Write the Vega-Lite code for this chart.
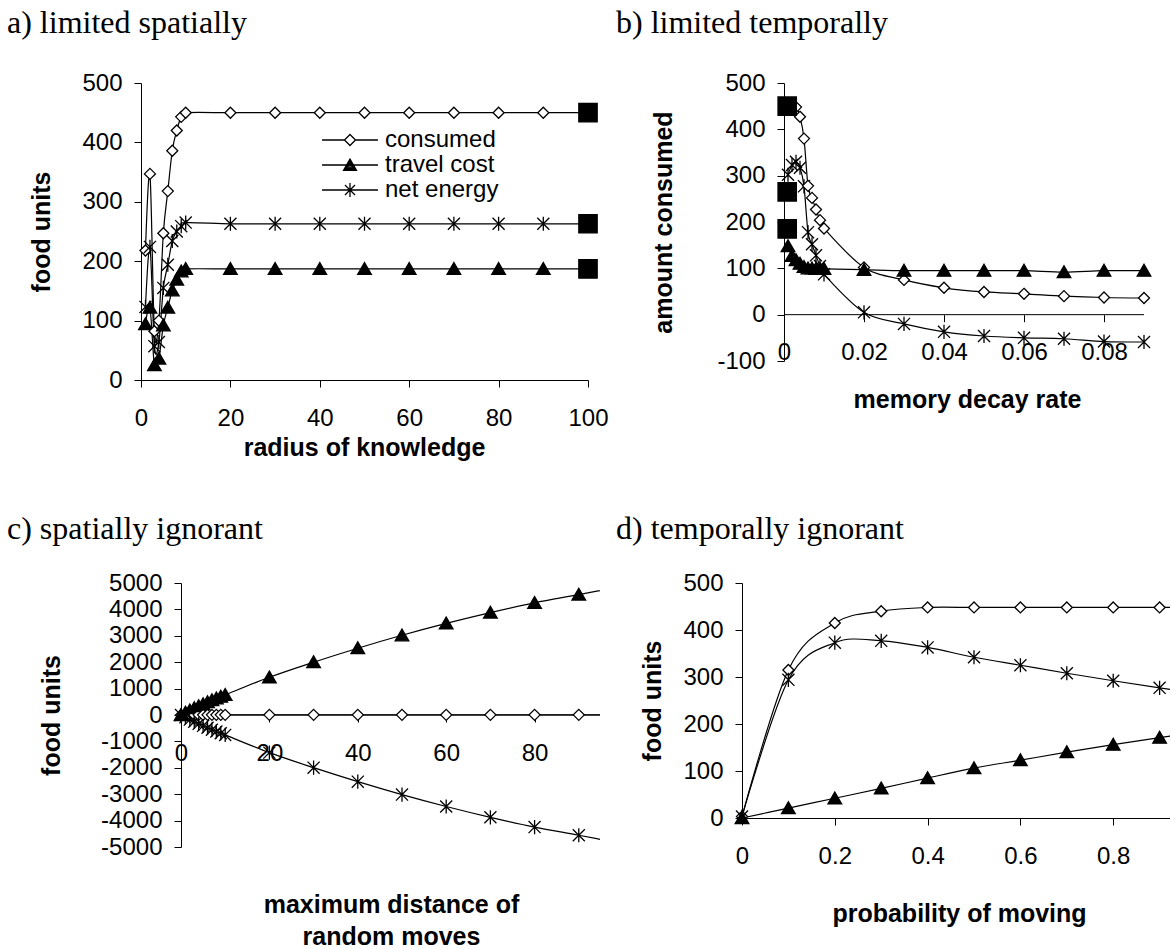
{
  "$schema": "https://vega.github.io/schema/vega-lite/v6.json",
  "background": "white",
  "padding": {"left": 7, "top": 7, "right": 0, "bottom": 0},
  "columns": 2,
  "bounds": "flush",
  "spacing": {"row": 203, "column": 142},
  "resolve": {"scale": {"shape": "independent", "fill": "independent"}},
  "datasets": {
    "spatialLimit": [
      {"x": 1, "series": "consumed", "food": 218}, {"x": 1, "series": "travel cost", "food": 94}, {"x": 1, "series": "net energy", "food": 123},
      {"x": 2, "series": "consumed", "food": 347}, {"x": 2, "series": "travel cost", "food": 122}, {"x": 2, "series": "net energy", "food": 224},
      {"x": 3, "series": "consumed", "food": 82}, {"x": 3, "series": "travel cost", "food": 25}, {"x": 3, "series": "net energy", "food": 57},
      {"x": 4, "series": "consumed", "food": 100}, {"x": 4, "series": "travel cost", "food": 36}, {"x": 4, "series": "net energy", "food": 64},
      {"x": 5, "series": "consumed", "food": 247}, {"x": 5, "series": "travel cost", "food": 92}, {"x": 5, "series": "net energy", "food": 155},
      {"x": 6, "series": "consumed", "food": 318}, {"x": 6, "series": "travel cost", "food": 122}, {"x": 6, "series": "net energy", "food": 194},
      {"x": 7, "series": "consumed", "food": 386}, {"x": 7, "series": "travel cost", "food": 151}, {"x": 7, "series": "net energy", "food": 234},
      {"x": 8, "series": "consumed", "food": 420}, {"x": 8, "series": "travel cost", "food": 169}, {"x": 8, "series": "net energy", "food": 250},
      {"x": 9, "series": "consumed", "food": 443}, {"x": 9, "series": "travel cost", "food": 183}, {"x": 9, "series": "net energy", "food": 259},
      {"x": 10, "series": "consumed", "food": 450}, {"x": 10, "series": "travel cost", "food": 187}, {"x": 10, "series": "net energy", "food": 265},
      {"x": 20, "series": "consumed", "food": 450}, {"x": 20, "series": "travel cost", "food": 187}, {"x": 20, "series": "net energy", "food": 263},
      {"x": 30, "series": "consumed", "food": 450}, {"x": 30, "series": "travel cost", "food": 187}, {"x": 30, "series": "net energy", "food": 263},
      {"x": 40, "series": "consumed", "food": 450}, {"x": 40, "series": "travel cost", "food": 187}, {"x": 40, "series": "net energy", "food": 263},
      {"x": 50, "series": "consumed", "food": 450}, {"x": 50, "series": "travel cost", "food": 187}, {"x": 50, "series": "net energy", "food": 263},
      {"x": 60, "series": "consumed", "food": 450}, {"x": 60, "series": "travel cost", "food": 187}, {"x": 60, "series": "net energy", "food": 263},
      {"x": 70, "series": "consumed", "food": 450}, {"x": 70, "series": "travel cost", "food": 187}, {"x": 70, "series": "net energy", "food": 263},
      {"x": 80, "series": "consumed", "food": 450}, {"x": 80, "series": "travel cost", "food": 187}, {"x": 80, "series": "net energy", "food": 263},
      {"x": 90, "series": "consumed", "food": 450}, {"x": 90, "series": "travel cost", "food": 187}, {"x": 90, "series": "net energy", "food": 263},
      {"x": 100, "series": "consumed", "food": 450}, {"x": 100, "series": "travel cost", "food": 187}, {"x": 100, "series": "net energy", "food": 263},
      {"x": 100, "series": "Series4", "food": 450}, {"x": 100, "series": "Series4", "food": 263}, {"x": 100, "series": "Series4", "food": 187}
    ],
    "temporalLimit": [
      {"x": 0.001, "series": "consumed", "food": 450}, {"x": 0.001, "series": "travel cost", "food": 148}, {"x": 0.001, "series": "net energy", "food": 302},
      {"x": 0.002, "series": "consumed", "food": 450}, {"x": 0.002, "series": "travel cost", "food": 127}, {"x": 0.002, "series": "net energy", "food": 323},
      {"x": 0.003, "series": "consumed", "food": 448}, {"x": 0.003, "series": "travel cost", "food": 118}, {"x": 0.003, "series": "net energy", "food": 330},
      {"x": 0.004, "series": "consumed", "food": 427}, {"x": 0.004, "series": "travel cost", "food": 110}, {"x": 0.004, "series": "net energy", "food": 317},
      {"x": 0.005, "series": "consumed", "food": 380}, {"x": 0.005, "series": "travel cost", "food": 103}, {"x": 0.005, "series": "net energy", "food": 277},
      {"x": 0.006, "series": "consumed", "food": 278}, {"x": 0.006, "series": "travel cost", "food": 100}, {"x": 0.006, "series": "net energy", "food": 178},
      {"x": 0.007, "series": "consumed", "food": 252}, {"x": 0.007, "series": "travel cost", "food": 100}, {"x": 0.007, "series": "net energy", "food": 152},
      {"x": 0.008, "series": "consumed", "food": 227}, {"x": 0.008, "series": "travel cost", "food": 99}, {"x": 0.008, "series": "net energy", "food": 128},
      {"x": 0.009, "series": "consumed", "food": 204}, {"x": 0.009, "series": "travel cost", "food": 99}, {"x": 0.009, "series": "net energy", "food": 105},
      {"x": 0.01, "series": "consumed", "food": 186}, {"x": 0.01, "series": "travel cost", "food": 99}, {"x": 0.01, "series": "net energy", "food": 87},
      {"x": 0.02, "series": "consumed", "food": 102}, {"x": 0.02, "series": "travel cost", "food": 97}, {"x": 0.02, "series": "net energy", "food": 5},
      {"x": 0.03, "series": "consumed", "food": 75}, {"x": 0.03, "series": "travel cost", "food": 95}, {"x": 0.03, "series": "net energy", "food": -20},
      {"x": 0.04, "series": "consumed", "food": 58}, {"x": 0.04, "series": "travel cost", "food": 95}, {"x": 0.04, "series": "net energy", "food": -37},
      {"x": 0.05, "series": "consumed", "food": 49}, {"x": 0.05, "series": "travel cost", "food": 95}, {"x": 0.05, "series": "net energy", "food": -46},
      {"x": 0.06, "series": "consumed", "food": 45}, {"x": 0.06, "series": "travel cost", "food": 95}, {"x": 0.06, "series": "net energy", "food": -50},
      {"x": 0.07, "series": "consumed", "food": 40}, {"x": 0.07, "series": "travel cost", "food": 92}, {"x": 0.07, "series": "net energy", "food": -52},
      {"x": 0.08, "series": "consumed", "food": 37}, {"x": 0.08, "series": "travel cost", "food": 95}, {"x": 0.08, "series": "net energy", "food": -58},
      {"x": 0.09, "series": "consumed", "food": 36}, {"x": 0.09, "series": "travel cost", "food": 95}, {"x": 0.09, "series": "net energy", "food": -59},
      {"x": 0.0008, "series": "Series4", "food": 450}, {"x": 0.0008, "series": "Series4", "food": 265}, {"x": 0.0008, "series": "Series4", "food": 185}
    ],
    "spatialIgnorance": [
      {"x": 0, "series": "consumed", "food": 0}, {"x": 0, "series": "travel cost", "food": 0}, {"x": 0, "series": "net energy", "food": 0},
      {"x": 1, "series": "consumed", "food": 5}, {"x": 1, "series": "travel cost", "food": 95}, {"x": 1, "series": "net energy", "food": -90},
      {"x": 2, "series": "consumed", "food": 5}, {"x": 2, "series": "travel cost", "food": 180}, {"x": 2, "series": "net energy", "food": -175},
      {"x": 3, "series": "consumed", "food": 5}, {"x": 3, "series": "travel cost", "food": 262}, {"x": 3, "series": "net energy", "food": -257},
      {"x": 4, "series": "consumed", "food": 5}, {"x": 4, "series": "travel cost", "food": 340}, {"x": 4, "series": "net energy", "food": -335},
      {"x": 5, "series": "consumed", "food": 5}, {"x": 5, "series": "travel cost", "food": 415}, {"x": 5, "series": "net energy", "food": -410},
      {"x": 6, "series": "consumed", "food": 5}, {"x": 6, "series": "travel cost", "food": 488}, {"x": 6, "series": "net energy", "food": -483},
      {"x": 7, "series": "consumed", "food": 5}, {"x": 7, "series": "travel cost", "food": 560}, {"x": 7, "series": "net energy", "food": -555},
      {"x": 8, "series": "consumed", "food": 5}, {"x": 8, "series": "travel cost", "food": 628}, {"x": 8, "series": "net energy", "food": -623},
      {"x": 9, "series": "consumed", "food": 5}, {"x": 9, "series": "travel cost", "food": 695}, {"x": 9, "series": "net energy", "food": -690},
      {"x": 10, "series": "consumed", "food": 5}, {"x": 10, "series": "travel cost", "food": 760}, {"x": 10, "series": "net energy", "food": -755},
      {"x": 20, "series": "consumed", "food": 5}, {"x": 20, "series": "travel cost", "food": 1430}, {"x": 20, "series": "net energy", "food": -1425},
      {"x": 30, "series": "consumed", "food": 5}, {"x": 30, "series": "travel cost", "food": 2000}, {"x": 30, "series": "net energy", "food": -1995},
      {"x": 40, "series": "consumed", "food": 5}, {"x": 40, "series": "travel cost", "food": 2530}, {"x": 40, "series": "net energy", "food": -2525},
      {"x": 50, "series": "consumed", "food": 5}, {"x": 50, "series": "travel cost", "food": 3020}, {"x": 50, "series": "net energy", "food": -3015},
      {"x": 60, "series": "consumed", "food": 5}, {"x": 60, "series": "travel cost", "food": 3470}, {"x": 60, "series": "net energy", "food": -3465},
      {"x": 70, "series": "consumed", "food": 5}, {"x": 70, "series": "travel cost", "food": 3880}, {"x": 70, "series": "net energy", "food": -3875},
      {"x": 80, "series": "consumed", "food": 5}, {"x": 80, "series": "travel cost", "food": 4250}, {"x": 80, "series": "net energy", "food": -4245},
      {"x": 90, "series": "consumed", "food": 5}, {"x": 90, "series": "travel cost", "food": 4560}, {"x": 90, "series": "net energy", "food": -4555},
      {"x": 100, "series": "consumed", "food": 5}, {"x": 100, "series": "travel cost", "food": 4880}, {"x": 100, "series": "net energy", "food": -4875}
    ],
    "temporalIgnorance": [
      {"x": 0, "series": "consumed", "food": 3}, {"x": 0, "series": "travel cost", "food": 0}, {"x": 0, "series": "net energy", "food": 3},
      {"x": 0.1, "series": "consumed", "food": 315}, {"x": 0.1, "series": "travel cost", "food": 21}, {"x": 0.1, "series": "net energy", "food": 294},
      {"x": 0.2, "series": "consumed", "food": 415}, {"x": 0.2, "series": "travel cost", "food": 42}, {"x": 0.2, "series": "net energy", "food": 373},
      {"x": 0.3, "series": "consumed", "food": 440}, {"x": 0.3, "series": "travel cost", "food": 63}, {"x": 0.3, "series": "net energy", "food": 377},
      {"x": 0.4, "series": "consumed", "food": 448}, {"x": 0.4, "series": "travel cost", "food": 85}, {"x": 0.4, "series": "net energy", "food": 363},
      {"x": 0.5, "series": "consumed", "food": 448}, {"x": 0.5, "series": "travel cost", "food": 106}, {"x": 0.5, "series": "net energy", "food": 342},
      {"x": 0.6, "series": "consumed", "food": 448}, {"x": 0.6, "series": "travel cost", "food": 123}, {"x": 0.6, "series": "net energy", "food": 325},
      {"x": 0.7, "series": "consumed", "food": 448}, {"x": 0.7, "series": "travel cost", "food": 140}, {"x": 0.7, "series": "net energy", "food": 308},
      {"x": 0.8, "series": "consumed", "food": 448}, {"x": 0.8, "series": "travel cost", "food": 156}, {"x": 0.8, "series": "net energy", "food": 292},
      {"x": 0.9, "series": "consumed", "food": 448}, {"x": 0.9, "series": "travel cost", "food": 171}, {"x": 0.9, "series": "net energy", "food": 277},
      {"x": 1.0, "series": "consumed", "food": 448}, {"x": 1.0, "series": "travel cost", "food": 185}, {"x": 1.0, "series": "net energy", "food": 263}
    ]
  },
  "concat": [
    {
      "width": 447,
      "height": 297,
      "title": {"text": "a) limited spatially", "dx": -134, "offset": 31},
      "data": {"name": "spatialLimit"},
      "resolve": {"scale": {"shape": "independent", "fill": "independent"}},
      "encoding": {
        "x": {"field": "x", "type": "quantitative", "scale": {"domain": [0, 100], "nice": false, "zero": false},
              "axis": {"values": [0, 20, 40, 60, 80, 100], "title": "radius of knowledge", "titleX": 223, "titleY": 75}},
        "y": {"field": "food", "type": "quantitative", "scale": {"domain": [0, 500], "nice": false, "zero": false},
              "axis": {"values": [0, 100, 200, 300, 400, 500], "title": "food units", "titleX": -92}}
      },
      "layer": [
        {
          "transform": [{"filter": "datum.series !== 'Series4'"}],
          "mark": {"type": "line", "interpolate": "cardinal", "color": "black", "strokeWidth": 1.2},
          "encoding": {"detail": {"field": "series", "type": "nominal"}}
        },
        {
          "mark": {"type": "point", "size": 110, "stroke": "black", "strokeWidth": 1.3, "opacity": 1},
          "encoding": {
            "shape": {"field": "series", "type": "nominal",
              "scale": {"domain": ["consumed", "travel cost", "net energy", "Series4"],
                        "range": ["M0,-1.05L1.05,0L0,1.05L-1.05,0Z", "M0,-1.2L1.3,1.05L-1.3,1.05Z", "M-1.15,-1.15L1.15,1.15M-1.15,1.15L1.15,-1.15M0,-1.35L0,1.35", "M-1.75,-1.75L1.75,-1.75L1.75,1.75L-1.75,1.75Z"]},
              "legend": null},
            "fill": {"field": "series", "type": "nominal",
              "scale": {"domain": ["consumed", "travel cost", "net energy", "Series4"], "range": ["white", "black", "transparent", "black"]},
              "legend": null}
          }
        },
        {
          "transform": [{"filter": "datum.x === 100 && datum.series !== 'Series4'"}],
          "mark": {"type": "point", "size": 110, "stroke": "black", "strokeWidth": 1.3, "opacity": 0},
          "encoding": {
            "shape": {"field": "series", "type": "nominal",
              "scale": {"domain": ["consumed", "travel cost", "net energy"],
                        "range": ["M-2.33,0L-0.46,0M0.46,0L2.33,0M0,-0.46L0.46,0L0,0.46L-0.46,0Z", "M-2.33,0L2.33,0M0,-0.5L0.54,0.44L-0.54,0.44ZM0,-0.34L0.38,0.34L-0.38,0.34ZM0,-0.18L0.22,0.24L-0.22,0.24ZM0,-0.5L0,0.44", "M-2.33,0L2.33,0M-0.42,-0.42L0.42,0.42M-0.42,0.42L0.42,-0.42M0,-0.58L0,0.58"]},
              "legend": {
                "orient": "none", "legendX": 180, "legendY": 44, "title": null,
                "symbolSize": 576, "symbolOffset": 16, "symbolOpacity": 1, "symbolStrokeWidth": 1.3, "symbolStrokeColor": "black",
                "labelOffset": 22, "rowPadding": 0, "padding": 0,
                "labelFont": "Liberation Sans", "labelFontSize": 24, "labelColor": "black", "labelLimit": 300,
                "encode": {"symbols": {
                  "stroke": {"value": "black"},
                  "strokeWidth": {"value": 1.3},
                  "opacity": {"value": 1}
                }}
              }}
          }
        }
      ]
    },
    {
      "width": 402,
      "height": 278,
      "title": {"text": "b) limited temporally", "dx": -126, "offset": 31},
      "data": {"name": "temporalLimit"},
      "encoding": {
        "x": {"field": "x", "type": "quantitative", "scale": {"domain": [-0.0105, 0.09], "nice": false, "zero": false},
              "axis": {"values": [0, 0.02, 0.04, 0.06, 0.08], "domain": false, "offset": -46.3, "title": "memory decay rate", "titleX": 225, "titleY": 93}},
        "y": {"field": "food", "type": "quantitative", "scale": {"domain": [-100, 500], "nice": false, "zero": false},
              "axis": {"values": [-100, 0, 100, 200, 300, 400, 500], "offset": -42, "title": "amount consumed", "titleX": -113}}
      },
      "layer": [
        {
          "data": {"values": [{"x": 0, "x2": 0.09, "food": 0}]},
          "mark": {"type": "rule", "color": "black", "strokeWidth": 1},
          "encoding": {"x2": {"field": "x2"}}
        },
        {
          "transform": [{"filter": "datum.series !== 'Series4'"}],
          "mark": {"type": "line", "interpolate": "cardinal", "color": "black", "strokeWidth": 1.2},
          "encoding": {"detail": {"field": "series", "type": "nominal"}}
        },
        {
          "mark": {"type": "point", "size": 110, "stroke": "black", "strokeWidth": 1.3, "opacity": 1},
          "encoding": {
            "shape": {"field": "series", "type": "nominal",
              "scale": {"domain": ["consumed", "travel cost", "net energy", "Series4"],
                        "range": ["M0,-1.05L1.05,0L0,1.05L-1.05,0Z", "M0,-1.2L1.3,1.05L-1.3,1.05Z", "M-1.15,-1.15L1.15,1.15M-1.15,1.15L1.15,-1.15M0,-1.35L0,1.35", "M-1.75,-1.75L1.75,-1.75L1.75,1.75L-1.75,1.75Z"]},
              "legend": null},
            "fill": {"field": "series", "type": "nominal",
              "scale": {"domain": ["consumed", "travel cost", "net energy", "Series4"], "range": ["white", "black", "transparent", "black"]},
              "legend": null}
          }
        }
      ]
    },
    {
      "width": 459,
      "height": 264,
      "title": {"text": "c) spatially ignorant", "dx": -134, "offset": 25},
      "data": {"name": "spatialIgnorance"},
      "encoding": {
        "x": {"field": "x", "type": "quantitative", "scale": {"domain": [-9.05, 94.8], "nice": false, "zero": false},
              "axis": {"values": [0, 20, 40, 60, 80], "domain": false, "offset": -132, "title": ["maximum distance of", "random moves"], "titleLineHeight": 32, "titleX": 250, "titleY": 197}},
        "y": {"field": "food", "type": "quantitative", "scale": {"domain": [-5000, 5000], "nice": false, "zero": false},
              "axis": {"values": [-5000, -4000, -3000, -2000, -1000, 0, 1000, 2000, 3000, 4000, 5000], "offset": -40, "title": "food units", "titleX": -122}}
      },
      "layer": [
        {
          "data": {"values": [{"x": 0, "x2": 94.8, "food": 0}]},
          "mark": {"type": "rule", "color": "black", "strokeWidth": 1},
          "encoding": {"x2": {"field": "x2"}}
        },
        {
          "mark": {"type": "line", "interpolate": "cardinal", "color": "black", "strokeWidth": 1.2, "clip": true},
          "encoding": {"detail": {"field": "series", "type": "nominal"}}
        },
        {
          "transform": [{"filter": "datum.x < 95"}],
          "mark": {"type": "point", "size": 110, "stroke": "black", "strokeWidth": 1.3, "opacity": 1},
          "encoding": {
            "shape": {"field": "series", "type": "nominal",
              "scale": {"domain": ["consumed", "travel cost", "net energy", "Series4"],
                        "range": ["M0,-1.05L1.05,0L0,1.05L-1.05,0Z", "M0,-1.2L1.3,1.05L-1.3,1.05Z", "M-1.15,-1.15L1.15,1.15M-1.15,1.15L1.15,-1.15M0,-1.35L0,1.35", "M-1.75,-1.75L1.75,-1.75L1.75,1.75L-1.75,1.75Z"]},
              "legend": null},
            "fill": {"field": "series", "type": "nominal",
              "scale": {"domain": ["consumed", "travel cost", "net energy", "Series4"], "range": ["white", "black", "transparent", "black"]},
              "legend": null}
          }
        }
      ]
    },
    {
      "width": 428,
      "height": 235,
      "title": {"text": "d) temporally ignorant", "dx": -126, "offset": 25},
      "data": {"name": "temporalIgnorance"},
      "encoding": {
        "x": {"field": "x", "type": "quantitative", "scale": {"domain": [0, 0.9224], "nice": false, "zero": false},
              "axis": {"values": [0, 0.2, 0.4, 0.6, 0.8], "title": "probability of moving", "titleX": 217, "titleY": 103}},
        "y": {"field": "food", "type": "quantitative", "scale": {"domain": [0, 500], "nice": false, "zero": false},
              "axis": {"values": [0, 100, 200, 300, 400, 500], "title": "food units", "titleX": -82}}
      },
      "layer": [
        {
          "mark": {"type": "line", "interpolate": "cardinal", "color": "black", "strokeWidth": 1.2, "clip": true},
          "encoding": {"detail": {"field": "series", "type": "nominal"}}
        },
        {
          "transform": [{"filter": "datum.x < 0.95"}],
          "mark": {"type": "point", "size": 110, "stroke": "black", "strokeWidth": 1.3, "opacity": 1},
          "encoding": {
            "shape": {"field": "series", "type": "nominal",
              "scale": {"domain": ["consumed", "travel cost", "net energy", "Series4"],
                        "range": ["M0,-1.05L1.05,0L0,1.05L-1.05,0Z", "M0,-1.2L1.3,1.05L-1.3,1.05Z", "M-1.15,-1.15L1.15,1.15M-1.15,1.15L1.15,-1.15M0,-1.35L0,1.35", "M-1.75,-1.75L1.75,-1.75L1.75,1.75L-1.75,1.75Z"]},
              "legend": null},
            "fill": {"field": "series", "type": "nominal",
              "scale": {"domain": ["consumed", "travel cost", "net energy", "Series4"], "range": ["white", "black", "transparent", "black"]},
              "legend": null}
          }
        }
      ]
    }
  ],
  "config": {
    "view": {"stroke": null},
    "font": "Liberation Sans",
    "axis": {
      "grid": false,
      "domainColor": "black", "domainWidth": 1,
      "tickColor": "black", "tickWidth": 1, "tickSize": 7,
      "labelColor": "black", "labelFont": "Liberation Sans", "labelFontSize": 24,
      "labelFlush": false, "labelOverlap": false,
      "labelExpr": "'' + datum.value",
      "titleColor": "black", "titleFont": "Liberation Sans", "titleFontSize": 25, "titleFontWeight": "bold",
      "titleBaseline": "alphabetic"
    },
    "axisX": {"labelPadding": 19},
    "axisY": {"labelPadding": 12},
    "title": {"anchor": "start", "frame": "group", "font": "Liberation Serif", "fontSize": 32, "fontWeight": "normal", "color": "black", "baseline": "alphabetic"}
  }
}
